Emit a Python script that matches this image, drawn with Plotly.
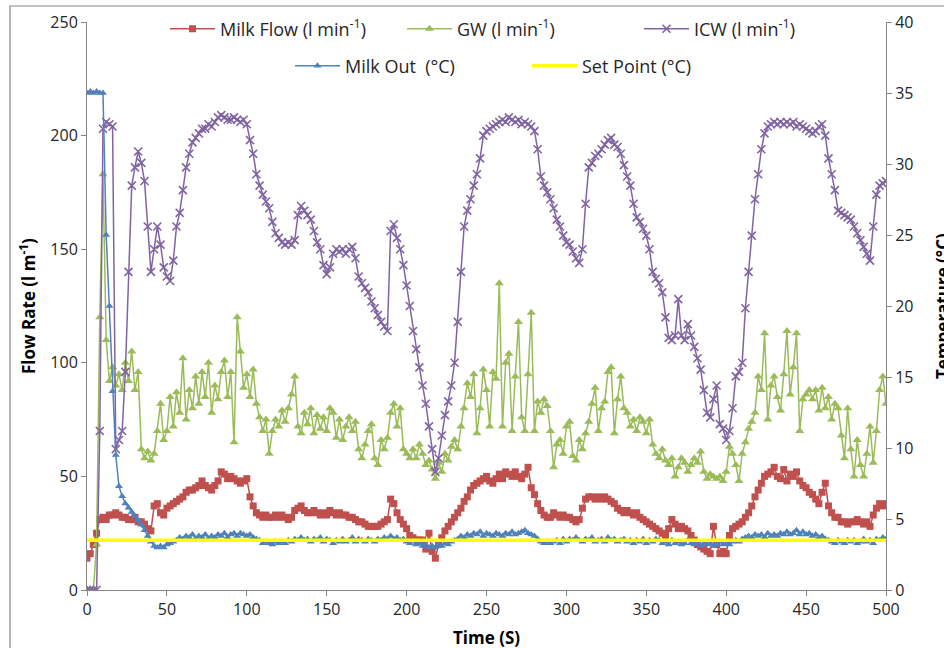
import plotly.graph_objects as go

# ---- data (2 s sampling) ----
TIME = list(range(0, 501, 2))

MILK_FLOW = [
    14, 16, 20, 25, 31, 32, 31, 33, 33, 34,
    33, 32, 32, 31, 31, 32, 30, 30, 29, 27,
    26, 37, 38, 34, 33, 36, 37, 38, 39, 40,
    41, 43, 44, 44, 45, 46, 48, 46, 45, 44,
    46, 48, 52, 51, 49, 50, 49, 48, 47, 48,
    49, 41, 37, 34, 33, 32, 33, 32, 32, 33,
    32, 33, 32, 31, 32, 35, 36, 37, 35, 34,
    34, 35, 34, 33, 34, 33, 35, 34, 33, 34,
    33, 33, 32, 32, 31, 30, 30, 29, 28, 28,
    28, 28, 29, 30, 31, 40, 38, 34, 31, 29,
    27, 24, 23, 22, 22, 22, 18, 25, 17, 14,
    20, 23, 26, 28, 30, 32, 34, 36, 39, 41,
    44, 46, 47, 48, 49, 50, 48, 47, 49, 51,
    49, 52, 51, 50, 52, 50, 49, 51, 54, 45,
    42, 38, 35, 33, 32, 32, 34, 33, 32, 33,
    32, 32, 31, 30, 31, 36, 40, 41, 41, 40,
    41, 40, 41, 40, 39, 38, 36, 35, 34, 35,
    34, 33, 34, 32, 31, 30, 29, 28, 27, 26,
    25, 24, 27, 31, 29, 27, 28, 27, 26, 24,
    22, 20, 19, 18, 17, 16, 28, 20, 16, 17,
    16, 24, 27, 28, 29, 30, 32, 34, 37, 41,
    44, 47, 50, 51, 52, 54, 50, 49, 53, 48,
    51, 50, 52, 48, 46, 45, 43, 42, 40, 38,
    43, 47, 37, 34, 32, 32, 30, 30, 29, 30,
    30, 31, 30, 29, 30, 28, 33, 36, 38, 37,
    38,
]

GW = [
    0, 0, 0, 20, 120, 183, 110, 92, 98, 90,
    95, 88, 100, 92, 105, 88, 96, 62, 58, 61,
    57, 60, 70, 82, 66, 70, 85, 72, 87, 78,
    102, 75, 88, 80, 94, 82, 96, 85, 100, 78,
    90, 84, 96, 101, 85, 96, 65, 120, 105, 89,
    95, 85, 97, 82, 76, 70, 75, 60, 70, 75,
    72, 79, 74, 80, 86, 94, 72, 69, 78, 73,
    80, 69, 77, 71, 76, 70, 80, 78, 67, 75,
    66, 72, 76, 70, 74, 62, 58, 64, 70, 73,
    58, 55, 66, 62, 67, 78, 82, 72, 80, 62,
    60, 58, 62, 58, 64, 60, 55, 57, 53, 49,
    56, 52, 60, 57, 63, 66, 62, 72, 80, 91,
    85, 95, 69, 80, 97, 88, 72, 96, 93, 135,
    72, 100, 104, 70, 94, 118, 76, 70, 95, 122,
    70, 83, 78, 84, 81, 70, 54, 64, 66, 60,
    72, 74, 59, 57, 66, 62, 69, 74, 82, 89,
    70, 80, 83, 96, 98, 69, 84, 94, 80, 78,
    72, 75, 70, 76, 74, 69, 75, 64, 60, 58,
    62, 57, 55, 58, 50, 54, 58, 56, 52, 55,
    58, 56, 61, 52, 49, 51, 50, 49, 50, 48,
    52, 63, 60, 55, 48, 60, 65, 71, 74, 78,
    94, 88, 113, 75, 90, 94, 85, 79, 95, 114,
    86, 98, 113, 70, 84, 86, 88, 84, 88, 79,
    89, 80, 85, 75, 82, 80, 68, 58, 80, 62,
    50, 66, 55, 50, 60, 72, 56, 70, 88, 94,
    82,
]

ICW = [
    0, 0, 0, 0, 70, 203, 206, 205, 204, 62,
    66, 70, 96, 140, 178, 186, 193, 188, 180, 160,
    140, 150, 160, 152, 142, 138, 136, 145, 160, 166,
    176, 186, 192, 197, 199, 201, 203, 203, 205, 204,
    206, 208, 209, 208, 207, 207, 208, 207, 206, 207,
    205, 198, 192, 183, 178, 174, 171, 168, 162, 157,
    155, 153, 152, 153, 152, 154, 165, 169, 167, 165,
    163, 158, 153, 150, 143, 139, 142, 148, 150, 149,
    150, 148, 150, 151, 146, 138, 135, 133, 131, 127,
    124, 121, 118, 116, 114, 158, 161, 155, 150, 143,
    134, 125, 114, 106, 98, 90, 82, 72, 62, 52,
    58, 68, 77, 83, 90, 100, 118, 140, 160, 167,
    172, 178, 183, 190, 200, 202, 203, 204, 205, 206,
    207, 206, 208, 207, 206, 207, 205, 206, 205, 204,
    202, 194, 182, 178, 175, 172, 168, 163, 160, 156,
    153, 152, 149, 146, 144, 150, 170, 186, 188, 191,
    192, 194, 196, 198, 199, 196, 195, 192, 187, 182,
    178, 170, 164, 162, 159, 156, 150, 140, 137, 135,
    131, 120, 111, 110, 112, 128, 112, 110, 117, 112,
    107, 102, 97, 88, 78, 76, 84, 90, 73, 71,
    66, 70, 80, 94, 96, 100, 124, 140, 156, 172,
    183, 194, 201, 204, 205, 206, 205, 206, 205, 206,
    205, 206, 204, 205, 204, 203, 202, 201, 202, 204,
    205, 200, 190, 183, 176, 167, 166, 165, 164, 163,
    160, 157, 154, 151, 148, 145, 160, 174, 178, 179,
    180,
]

MILK_OUT = [
    35.0, 35.1, 35.0, 35.1, 35.0, 35.0, 25.0, 20.0, 14.0, 9.5,
    7.3, 6.6, 6.1, 5.8, 5.5, 5.2, 4.9, 4.6, 4.2, 3.8,
    3.4, 3.1, 3.0, 3.1, 3.0, 3.2, 3.3, 3.4, 3.5, 3.7,
    3.6, 3.8, 3.7, 3.9, 3.6, 3.8, 3.7, 3.9, 3.6, 3.8,
    3.7, 3.9, 3.8, 4.0, 3.7, 3.9, 4.0, 3.8, 4.0, 3.9,
    3.8, 3.9, 3.7, 3.6, 3.5, 3.3, 3.4, 3.3, 3.2, 3.4,
    3.3, 3.4, 3.3, 3.5, 3.4, 3.6, 3.5, 3.7, 3.5, 3.6,
    3.4, 3.6, 3.5, 3.7, 3.4, 3.6, 3.5, 3.3, 3.5, 3.4,
    3.6, 3.4, 3.5, 3.7, 3.4, 3.6, 3.5, 3.4, 3.6, 3.5,
    3.4, 3.6, 3.5, 3.7, 3.6, 3.8, 3.6, 3.7, 3.5, 3.6,
    3.4, 3.3, 3.5, 3.2, 3.3, 3.1, 3.2, 3.0, 3.1, 3.0,
    3.2, 3.1, 3.3, 3.2, 3.4, 3.5, 3.6, 3.8, 3.7, 3.9,
    3.8, 4.0, 3.9, 4.1, 3.8, 4.0, 3.9, 3.8, 4.0, 3.9,
    3.8, 4.0, 3.9, 4.1, 3.9, 4.0, 4.1, 4.2, 4.0, 3.9,
    3.8, 3.6, 3.4, 3.3, 3.4, 3.3, 3.4, 3.5, 3.3, 3.6,
    3.4, 3.6, 3.5, 3.7, 3.5, 3.4, 3.6, 3.5, 3.7, 3.4,
    3.5, 3.6, 3.4, 3.7, 3.5, 3.6, 3.4, 3.5, 3.6, 3.4,
    3.5, 3.3, 3.5, 3.4, 3.6, 3.3, 3.5, 3.4, 3.6, 3.5,
    3.3, 3.4, 3.2, 3.5, 3.3, 3.4, 3.2, 3.3, 3.5, 3.3,
    3.2, 3.4, 3.1, 3.3, 3.2, 3.3, 3.1, 3.2, 3.4, 3.2,
    3.3, 3.2, 3.4, 3.5, 3.4, 3.6, 3.7, 3.8, 3.7, 3.9,
    3.8, 3.9, 3.7, 4.0, 3.8, 3.9, 3.8, 4.0, 3.9, 4.1,
    3.9, 4.0, 4.2, 3.9, 4.1, 3.9, 4.0, 3.8, 3.9, 3.7,
    3.8, 3.6, 3.5, 3.4, 3.3, 3.5, 3.4, 3.3, 3.5, 3.4,
    3.5, 3.3, 3.4, 3.6, 3.4, 3.5, 3.3, 3.6, 3.5, 3.7,
    3.6,
]

SET_T = [0, 500]
SET_POINT = [3.5, 3.5]

X_TICKS = [0, 50, 100, 150, 200, 250, 300, 350, 400, 450, 500]
Y_TICKS = [0, 50, 100, 150, 200, 250]
Y2_TICKS = [0, 5, 10, 15, 20, 25, 30, 35, 40]

# ---- styling ----
FONT = "Open Sans"
TXT = "#262626"
AX = "#868686"
W, H = 944, 648
L, R, T, B = 87, 58, 22, 58
PW, PH = W - L - R, H - T - B


def px_x(p):
    return (p - L) / PW


def px_y(p):
    return (H - B - p) / PH


fig = go.Figure()
fig.add_trace(go.Scatter(
    x=TIME, y=MILK_FLOW, name="Milk Flow (l min<sup>-1</sup>)",
    mode="lines+markers", line=dict(color="#C0504D", width=1.5),
    marker=dict(symbol="square", size=7, color="#C0504D"), legend="legend"))
fig.add_trace(go.Scatter(
    x=TIME, y=GW, name="GW (l min<sup>-1</sup>)",
    mode="lines+markers", line=dict(color="#9BBB59", width=1.5),
    marker=dict(symbol="triangle-up", size=8, color="#9BBB59"), legend="legend"))
fig.add_trace(go.Scatter(
    x=TIME, y=ICW, name="ICW (l min<sup>-1</sup>)",
    mode="lines+markers", line=dict(color="#8064A2", width=1.5),
    marker=dict(symbol="x-thin", size=8, color="#8064A2",
                line=dict(color="#8064A2", width=1.6)), legend="legend"))
fig.add_trace(go.Scatter(
    x=TIME, y=MILK_OUT, name="Milk Out\u00a0 (°C)", yaxis="y2",
    mode="lines+markers", line=dict(color="#4F81BD", width=1.5),
    marker=dict(symbol="triangle-up", size=7, color="#4F81BD"), legend="legend2"))
fig.add_trace(go.Scatter(
    x=SET_T, y=SET_POINT, name="Set Point (°C)", yaxis="y2",
    mode="lines", line=dict(color="#FFFF00", width=3.5), legend="legend2"))

axis_common = dict(
    showline=True, linecolor=AX, linewidth=1, ticks="outside", ticklen=5,
    tickcolor=AX, tickwidth=1, showgrid=False, zeroline=False,
    tickfont=dict(family=FONT, size=16, color=TXT),
)

legend_common = dict(
    orientation="h", xanchor="left", yanchor="middle",
    bgcolor="rgba(0,0,0,0)", borderwidth=0,
    font=dict(family=FONT, size=18, color=TXT),
    itemwidth=45,
    entrywidth=177, entrywidthmode="pixels", itemclick=False,
)

fig.update_layout(
    width=W, height=H,
    margin=dict(l=L, r=R, t=T, b=B, autoexpand=False),
    paper_bgcolor="white", plot_bgcolor="white",
    font=dict(family=FONT, size=16, color=TXT),
    showlegend=True,
    xaxis=dict(range=[0, 500], tickvals=X_TICKS, **axis_common),
    yaxis=dict(range=[0, 250], tickvals=Y_TICKS, **axis_common),
    yaxis2=dict(range=[0, 40], tickvals=Y2_TICKS, overlaying="y", side="right",
                **axis_common),
    legend=dict(x=px_x(165), y=px_y(29), **legend_common),
    legend2=dict(x=px_x(290), y=px_y(66), **legend_common),
    annotations=[
        dict(text="<b>Flow Rate (l m<sup>-1</sup>)</b>", xref="paper", yref="paper",
             x=px_x(27), y=px_y(306), xanchor="center", yanchor="middle",
             textangle=-90, showarrow=False,
             font=dict(family=FONT, size=17, color="black")),
        dict(text="<b>Time (S)</b>", xref="paper", yref="paper",
             x=px_x(486), y=px_y(637), xanchor="center", yanchor="middle",
             showarrow=False, font=dict(family=FONT, size=17, color="black")),
        dict(text="<b>Temperature (°C)</b>", xref="paper", yref="paper",
             x=px_x(942), y=px_y(306), xanchor="center", yanchor="middle",
             textangle=-90, showarrow=False,
             font=dict(family=FONT, size=17, color="black")),
    ],
    shapes=[
        dict(type="rect", xref="paper", yref="paper",
             x0=px_x(10), x1=px_x(990), y0=px_y(700), y1=px_y(6),
             line=dict(color=AX, width=1.2), fillcolor="rgba(0,0,0,0)",
             layer="below"),
    ],
)

fig.write_html("out.html")
